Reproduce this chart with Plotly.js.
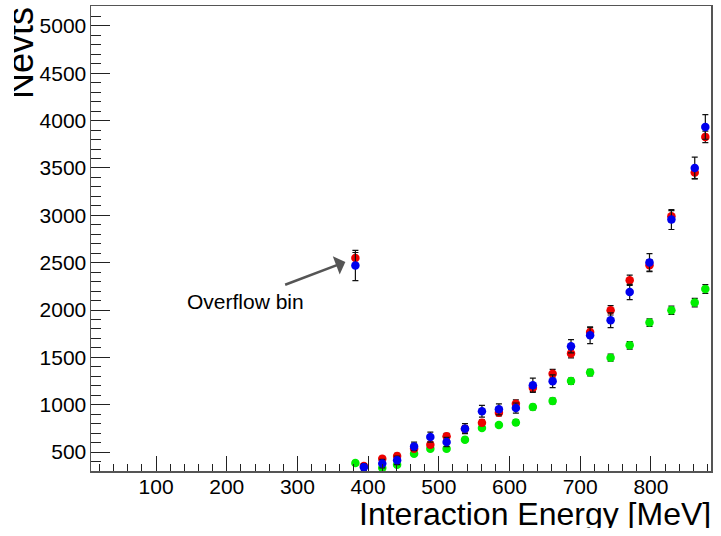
<!DOCTYPE html>
<html>
<head>
<meta charset="utf-8">
<script src="https://cdn.plot.ly/plotly-3.0.1.min.js"></script>
<style>
  html, body { margin: 0; padding: 0; background: #fff; }
  #wrap { position: relative; width: 721px; height: 536px; overflow: hidden; }
  #chart { width: 721px; height: 536px; }
  /* canvas edges: titles run past the pad border */
  .edge { position: absolute; background: #fff; pointer-events: none; }
</style>
</head>
<body>
<div id="wrap">
  <div id="chart"></div>
  <div class="edge" style="left:0;top:0;width:14px;height:536px;"></div>
  <div class="edge" style="left:0;top:528px;width:721px;height:8px;"></div>
</div>
<script>
// Bin centres of the interaction-energy histogram [MeV]; the first entry is the overflow bin
const energy = [382, 394, 420, 441, 465, 488, 511, 537, 561, 585, 609, 633, 661, 687, 714, 743, 770, 798, 829, 862, 877];

// Event counts per bin
const redCounts   = [2550, 352, 430, 458, 536, 578, 666, 745, 810, 916, 1011, 1180, 1328, 1540, 1768, 1997, 2314, 2472, 2990, 3451, 3828];
const blueCounts  = [2470, 340, 378, 413, 560, 658, 606, 747, 930, 951, 965, 1205, 1247, 1617, 1733, 1891, 2190, 2501, 2955, 3500, 3933];
const greenCounts = [384, null, 331, 367, 483, 536, 536, 631, 754, 785, 811, 975, 1039, 1250, 1339, 1497, 1627, 1867, 1997, 2078, 2222];

// Statistical uncertainties
const redErr   = [57, 25, 25, 28, 30, 30, 32, 35, 30, 35, 40, 40, 45, 45, 45, 50, 55, 60, 60, 63, 60];
const blueErr  = [160, 35, 45, 45, 45, 53, 48, 53, 62, 58, 53, 75, 67, 70, 88, 78, 81, 95, 105, 115, 130];
const greenErr = [20, null, 20, 20, 22, 22, 22, 25, 25, 25, 28, 30, 30, 32, 35, 38, 40, 40, 44, 44, 46];

const xTitle = 'Interaction Energy [MeV]';
const yTitle = 'Nevts';
const overflowNote = 'Overflow bin';

const FONT = '"Liberation Sans", Arial, Helvetica, sans-serif';

function series(name, y, err, color) {
  return {
    type: 'scatter', mode: 'markers', name: name,
    x: energy, y: y,
    marker: { color: color, size: 8.5, line: { width: 0 } },
    error_y: { type: 'data', array: err, visible: true, color: '#111', thickness: 1.2, width: 3 },
    cliponaxis: true,
    showlegend: false
  };
}

const data = [
  series('green', greenCounts, greenErr, '#00ee00'),
  series('red', redCounts, redErr, '#ee0000'),
  series('blue', blueCounts, blueErr, '#0000ee')
];

const axisCommon = {
  showgrid: false, zeroline: false,
  showline: true, linecolor: '#555', linewidth: 1.5, mirror: true,
  ticks: 'inside', tickcolor: '#222', tickwidth: 1,
  tickfont: { family: FONT, size: 21, color: '#000' },
  tickmode: 'linear', tick0: 0
};

const layout = {
  width: 721, height: 536,
  margin: { l: 91, r: 10, t: 6, b: 65, pad: 0 },
  paper_bgcolor: '#fff', plot_bgcolor: '#fff',
  font: { family: FONT, color: '#000' },
  xaxis: Object.assign({}, axisCommon, {
    range: [8, 885], dtick: 100, ticklen: 15, ticklabelstandoff: -4,
    minor: { ticks: 'inside', dtick: 20, tick0: 0, ticklen: 7, tickcolor: '#222', tickwidth: 1 }
  }),
  yaxis: Object.assign({}, axisCommon, {
    range: [300, 5210], dtick: 500, ticklen: 19, ticklabelstandoff: -1,
    minor: { ticks: 'inside', dtick: 100, tick0: 0, ticklen: 9.5, tickcolor: '#222', tickwidth: 1 }
  }),
  annotations: [
    { text: xTitle, xref: 'paper', yref: 'paper', x: 1, y: -0.05, xanchor: 'right', yanchor: 'top',
      xshift: 2, showarrow: false, font: { family: FONT, size: 32, color: '#000' } },
    { text: yTitle, xref: 'paper', yref: 'paper', x: -0.113, y: 0.899, xanchor: 'center', yanchor: 'middle',
      textangle: -90, showarrow: false, font: { family: FONT, size: 36, color: '#000' } },
    { text: overflowNote, xref: 'x', yref: 'y', x: 226.7, y: 2085, xanchor: 'center', yanchor: 'middle',
      showarrow: false, font: { family: FONT, size: 21, color: '#000' } },
    { text: '', xref: 'x', yref: 'y', axref: 'x', ayref: 'y', x: 367.8, y: 2507, ax: 280.5, ay: 2261,
      showarrow: true, arrowhead: 1, arrowsize: 1.3, arrowwidth: 2.5, arrowcolor: '#555', standoff: 0 }
  ]
};

Plotly.newPlot('chart', data, layout, { displayModeBar: false, staticPlot: true });
</script>
</body>
</html>
